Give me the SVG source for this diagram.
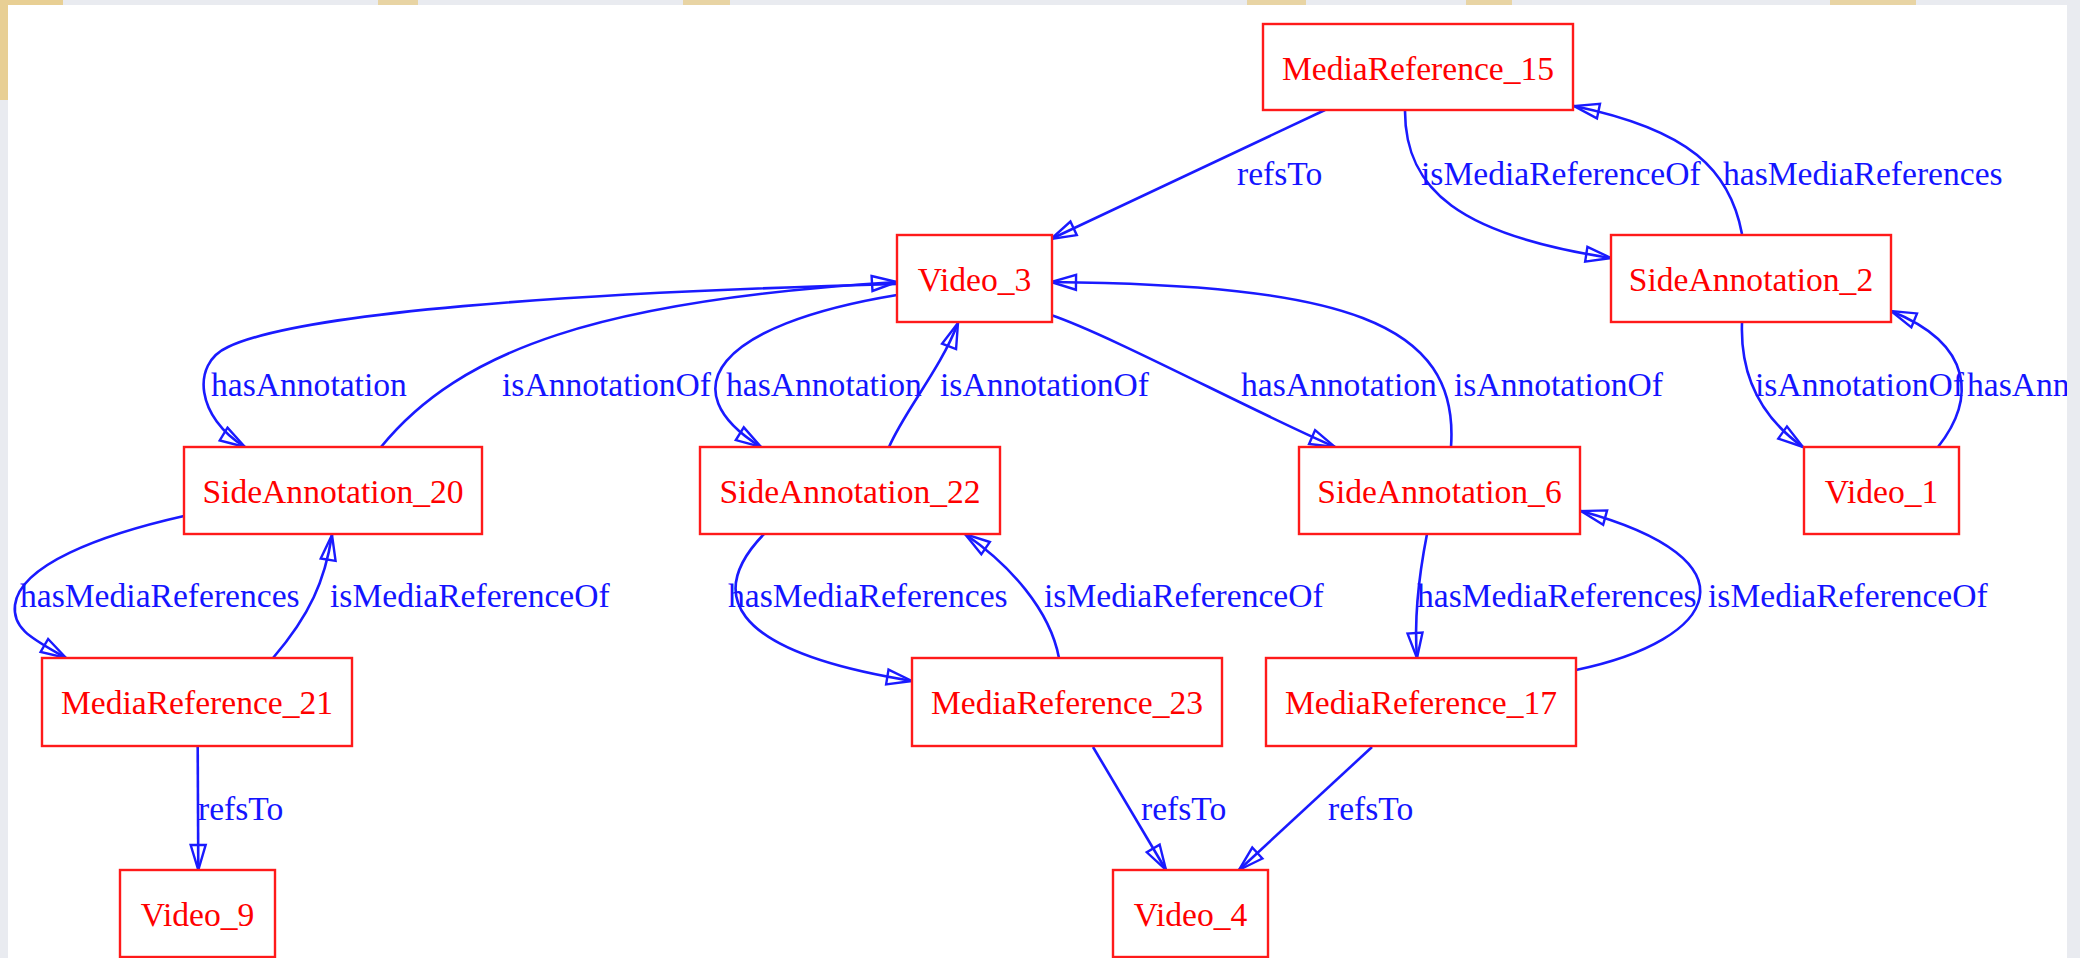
<svg xmlns="http://www.w3.org/2000/svg" width="2080" height="958" viewBox="0 0 2080 958">
<style>
.node rect{fill:#fff;stroke:#ff1a1a;stroke-width:2.4}
.node text{fill:#ff0000;font-family:"Liberation Serif","Times New Roman",serif;font-size:33.6px;text-anchor:middle}
.edge path{fill:none;stroke:#1a1aff;stroke-width:2.6;marker-end:url(#ah)}
.edge text{fill:#1414ff;font-family:"Liberation Serif","Times New Roman",serif;font-size:33.6px}
</style>
<defs>
<marker id="ah" markerUnits="userSpaceOnUse" markerWidth="30" markerHeight="18" refX="25" refY="7.5" orient="auto" overflow="visible">
<path d="M0,0 L25,7.5 L0,15 Z" fill="none" stroke="#1a1aff" stroke-width="2.4"/>
</marker>
<clipPath id="panel"><rect x="8" y="5" width="2059" height="953"/></clipPath>
</defs>
<g id="background">
<rect x="0" y="0" width="2080" height="958" fill="#e9ebf0"/>
<rect x="0" y="0" width="63" height="5" fill="#e8cf94"/>
<rect x="0" y="0" width="8" height="100" fill="#e8cf94"/>
<rect x="378" y="0" width="40" height="5" fill="#e8d4a4"/>
<rect x="683" y="0" width="47" height="5" fill="#e8d4a4"/>
<rect x="1247" y="0" width="59" height="5" fill="#e8d4a4"/>
<rect x="1466" y="0" width="46" height="5" fill="#e8d4a4"/>
<rect x="1830" y="0" width="86" height="5" fill="#e8d4a4"/>
<rect x="8" y="5" width="2059" height="953" fill="#ffffff"/>
</g>
<g id="connectors" clip-path="url(#panel)">
<g class="edge" id="e_MR15_V3"><path d="M1325,110 L1051,239"/><text x="1237" y="185">refsTo</text></g>
<g class="edge" id="e_MR15_SA2"><path d="M1405,111 C1405,190 1460,235 1611,258"/><text x="1421" y="185">isMediaReferenceOf</text></g>
<g class="edge" id="e_SA2_MR15"><path d="M1742,234 C1730,170 1690,130 1574,106"/><text x="1723" y="185">hasMediaReferences</text></g>
<g class="edge" id="e_V3_SA20"><path d="M897,284 C560,293 300,313 228,347 C190,364 197,418 245,447"/><text x="211" y="396">hasAnnotation</text></g>
<g class="edge" id="e_SA20_V3"><path d="M381,447 C460,350 600,300 897,282"/><text x="502" y="396">isAnnotationOf</text></g>
<g class="edge" id="e_V3_SA22"><path d="M897,295 C715,325 670,390 761,447"/><text x="726" y="396">hasAnnotation</text></g>
<g class="edge" id="e_SA22_V3"><path d="M889,447 C905,410 940,370 958,323"/><text x="940" y="396">isAnnotationOf</text></g>
<g class="edge" id="e_V3_SA6"><path d="M1051,315 C1110,335 1250,410 1335,447"/><text x="1241" y="396">hasAnnotation</text></g>
<g class="edge" id="e_SA6_V3"><path d="M1451,447 C1460,320 1340,285 1051,282"/><text x="1454" y="396">isAnnotationOf</text></g>
<g class="edge" id="e_SA2_V1"><path d="M1742,323 C1740,380 1765,420 1803,447"/><text x="1755" y="396">isAnnotationOf</text></g>
<g class="edge" id="e_V1_SA2"><path d="M1938,447 C1975,400 1975,345 1891,311"/><text x="1967" y="396">hasAnnotation</text></g>
<g class="edge" id="e_SA20_MR21"><path d="M184,516 C100,535 20,565 15,605 C12,630 35,640 66,658"/><text x="20" y="607">hasMediaReferences</text></g>
<g class="edge" id="e_MR21_SA20"><path d="M273,658 C310,615 325,580 332,535"/><text x="330" y="607">isMediaReferenceOf</text></g>
<g class="edge" id="e_MR21_V9"><path d="M197.7,747 L198.3,870"/><text x="198" y="820">refsTo</text></g>
<g class="edge" id="e_SA22_MR23"><path d="M764,534 C710,590 720,650 912,681"/><text x="728" y="607">hasMediaReferences</text></g>
<g class="edge" id="e_MR23_SA22"><path d="M1059,658 C1050,610 1010,565 965,534"/><text x="1044" y="607">isMediaReferenceOf</text></g>
<g class="edge" id="e_SA6_MR17"><path d="M1427,534 C1418,580 1414,620 1417,658"/><text x="1417" y="607">hasMediaReferences</text></g>
<g class="edge" id="e_MR17_SA6"><path d="M1576,670 C1720,640 1760,560 1581,511"/><text x="1708" y="607">isMediaReferenceOf</text></g>
<g class="edge" id="e_MR23_V4"><path d="M1093,747 L1166,870"/><text x="1141" y="820">refsTo</text></g>
<g class="edge" id="e_MR17_V4"><path d="M1372,747 L1239,870"/><text x="1328" y="820">refsTo</text></g>
</g>
<g id="MediaReference_15" class="node"><rect x="1263" y="24" width="310" height="86"/><text x="1418" y="79.5">MediaReference_15</text></g>
<g id="Video_3" class="node"><rect x="897" y="235" width="155" height="87"/><text x="974.5" y="290.5">Video_3</text></g>
<g id="SideAnnotation_2" class="node"><rect x="1611" y="235" width="280" height="87"/><text x="1751" y="290.5">SideAnnotation_2</text></g>
<g id="SideAnnotation_20" class="node"><rect x="184" y="447" width="298" height="87"/><text x="333" y="502.5">SideAnnotation_20</text></g>
<g id="SideAnnotation_22" class="node"><rect x="700" y="447" width="300" height="87"/><text x="850" y="502.5">SideAnnotation_22</text></g>
<g id="SideAnnotation_6" class="node"><rect x="1299" y="447" width="281" height="87"/><text x="1439.5" y="502.5">SideAnnotation_6</text></g>
<g id="Video_1" class="node"><rect x="1804" y="447" width="155" height="87"/><text x="1881.5" y="502.5">Video_1</text></g>
<g id="MediaReference_21" class="node"><rect x="42" y="658" width="310" height="88"/><text x="197" y="714">MediaReference_21</text></g>
<g id="MediaReference_23" class="node"><rect x="912" y="658" width="310" height="88"/><text x="1067" y="714">MediaReference_23</text></g>
<g id="MediaReference_17" class="node"><rect x="1266" y="658" width="310" height="88"/><text x="1421" y="714">MediaReference_17</text></g>
<g id="Video_9" class="node"><rect x="120" y="870" width="155" height="87"/><text x="197.5" y="926">Video_9</text></g>
<g id="Video_4" class="node"><rect x="1113" y="870" width="155" height="87"/><text x="1190.5" y="926">Video_4</text></g>
</svg>
